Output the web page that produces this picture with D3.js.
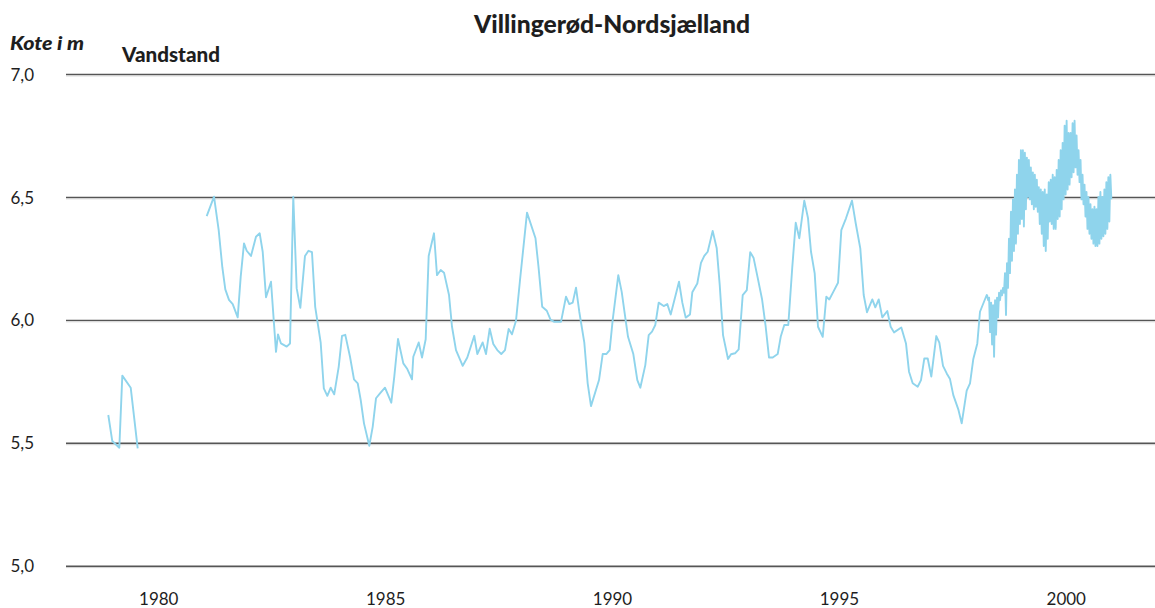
<!DOCTYPE html>
<html>
<head>
<meta charset="utf-8">
<script src="https://cdn.jsdelivr.net/npm/d3@7"></script>
<style>
  html, body { margin: 0; padding: 0; background: #fff; }
  svg { display: block; }
  text { font-family: Lato, "Open Sans", sans-serif; fill: #1e1e1e; }
</style>
</head>
<body>
<svg id="chart" width="1155" height="608"></svg>
<script>
// Groundwater level, Villingerød (North Zealand), metres above datum.

// Early readings, 1978-79 (decimal year / level)
const earlyDates  = [1978.932, 1979.020, 1979.175, 1979.241, 1979.426, 1979.580];
const earlyLevels = [5.613, 5.507, 5.480, 5.773, 5.724, 5.477];

// Roughly monthly readings, 1981 - mid 1998
const monthlyDates = [
  1981.101, 1981.262, 1981.365, 1981.445, 1981.511, 1981.592, 1981.674, 1981.784, 1981.850, 1981.923,
  1981.982, 1982.077, 1982.187, 1982.269, 1982.335, 1982.408, 1982.518, 1982.628, 1982.672, 1982.738,
  1982.864, 1982.937, 1983.009, 1983.084, 1983.164, 1983.267, 1983.344, 1983.421, 1983.492, 1983.613,
  1983.682, 1983.759, 1983.834, 1983.911, 1984.010, 1984.083, 1984.155, 1984.259, 1984.347, 1984.429,
  1984.495, 1984.567, 1984.684, 1984.759, 1984.832, 1984.920, 1985.030, 1985.169, 1985.235, 1985.317,
  1985.434, 1985.522, 1985.625, 1985.654, 1985.773, 1985.846, 1985.927, 1985.993, 1986.110, 1986.176,
  1986.258, 1986.331, 1986.441, 1986.507, 1986.595, 1986.743, 1986.844, 1986.998, 1987.065, 1987.183,
  1987.256, 1987.338, 1987.417, 1987.505, 1987.593, 1987.675, 1987.756, 1987.829, 1987.917, 1988.006,
  1988.160, 1988.347, 1988.413, 1988.495, 1988.596, 1988.678, 1988.761, 1988.909, 1989.019, 1989.092,
  1989.167, 1989.240, 1989.312, 1989.423, 1989.497, 1989.570, 1989.747, 1989.828, 1989.907, 1989.982,
  1990.048, 1990.172, 1990.247, 1990.313, 1990.386, 1990.503, 1990.591, 1990.657, 1990.767, 1990.842,
  1990.915, 1990.987, 1991.062, 1991.172, 1991.252, 1991.327, 1991.510, 1991.583, 1991.657, 1991.752,
  1991.803, 1991.913, 1991.994, 1992.067, 1992.142, 1992.252, 1992.341, 1992.407, 1992.480, 1992.590,
  1992.656, 1992.744, 1992.825, 1992.914, 1993.004, 1993.079, 1993.152, 1993.240, 1993.339, 1993.416,
  1993.493, 1993.575, 1993.685, 1993.751, 1993.830, 1993.918, 1994.006, 1994.082, 1994.161, 1994.271,
  1994.353, 1994.419, 1994.500, 1994.573, 1994.677, 1994.756, 1994.822, 1994.910, 1995.014, 1995.087,
  1995.190, 1995.322, 1995.404, 1995.505, 1995.580, 1995.653, 1995.770, 1995.836, 1995.911, 1995.990,
  1996.100, 1996.175, 1996.248, 1996.409, 1996.512, 1996.579, 1996.660, 1996.770, 1996.843, 1996.916,
  1996.991, 1997.070, 1997.180, 1997.247, 1997.328, 1997.410, 1997.482, 1997.555, 1997.665, 1997.740,
  1997.850, 1997.923, 1997.996, 1998.084, 1998.143, 1998.291
];
const monthlyLevels = [
  6.422, 6.501, 6.365, 6.214, 6.124, 6.081, 6.064, 6.010, 6.175, 6.311,
  6.281, 6.260, 6.338, 6.352, 6.277, 6.092, 6.155, 5.870, 5.941, 5.904,
  5.891, 5.904, 6.501, 6.128, 6.049, 6.260, 6.281, 6.275, 6.053, 5.907,
  5.721, 5.691, 5.724, 5.697, 5.809, 5.935, 5.939, 5.850, 5.758, 5.742,
  5.674, 5.579, 5.488, 5.565, 5.681, 5.701, 5.724, 5.663, 5.769, 5.922,
  5.823, 5.800, 5.758, 5.850, 5.908, 5.847, 5.921, 6.260, 6.352, 6.182,
  6.203, 6.192, 6.101, 5.972, 5.877, 5.813, 5.847, 5.935, 5.861, 5.908,
  5.861, 5.964, 5.902, 5.877, 5.861, 5.877, 5.963, 5.941, 5.996, 6.162,
  6.436, 6.332, 6.216, 6.053, 6.037, 6.001, 5.992, 5.992, 6.094, 6.064,
  6.070, 6.131, 6.033, 5.907, 5.742, 5.649, 5.755, 5.861, 5.861, 5.877,
  5.999, 6.182, 6.114, 6.026, 5.931, 5.861, 5.755, 5.724, 5.816, 5.938,
  5.952, 5.979, 6.070, 6.056, 6.064, 6.022, 6.155, 6.070, 6.009, 6.022,
  6.112, 6.148, 6.232, 6.260, 6.277, 6.362, 6.291, 6.142, 5.938, 5.841,
  5.860, 5.864, 5.880, 6.101, 6.121, 6.275, 6.253, 6.175, 6.085, 5.979,
  5.847, 5.847, 5.861, 5.931, 5.979, 5.979, 6.214, 6.395, 6.332, 6.485,
  6.413, 6.277, 6.189, 5.972, 5.931, 6.094, 6.083, 6.114, 6.151, 6.365,
  6.413, 6.485, 6.393, 6.291, 6.101, 6.031, 6.083, 6.051, 6.083, 6.010,
  6.036, 5.972, 5.949, 5.969, 5.904, 5.789, 5.742, 5.728, 5.755, 5.843,
  5.843, 5.769, 5.934, 5.907, 5.813, 5.782, 5.759, 5.694, 5.636, 5.579,
  5.712, 5.742, 5.841, 5.904, 6.033, 6.101
];

// Frequent logger readings from mid 1998 (about every 8 days)
const loggerStart = 1998.30;
const loggerStepDays = 8;
const loggerLevels = [
  6.10, 6.08, 6.09, 5.95, 6.07, 5.90, 6.06, 5.85, 6.08, 5.94,
  6.09, 6.01, 6.11, 6.08, 6.12, 6.10, 6.13, 6.11, 6.19, 6.02,
  6.23, 6.13, 6.33, 6.19, 6.44, 6.24, 6.49, 6.28, 6.53, 6.31,
  6.59, 6.35, 6.65, 6.39, 6.69, 6.41, 6.69, 6.38, 6.68, 6.45,
  6.66, 6.50, 6.65, 6.49, 6.62, 6.47, 6.60, 6.45, 6.59, 6.46,
  6.57, 6.44, 6.54, 6.39, 6.53, 6.35, 6.52, 6.30, 6.53, 6.28,
  6.51, 6.33, 6.56, 6.40, 6.57, 6.39, 6.59, 6.37, 6.58, 6.37,
  6.61, 6.41, 6.65, 6.42, 6.69, 6.45, 6.72, 6.49, 6.79, 6.51,
  6.81, 6.53, 6.76, 6.55, 6.76, 6.58, 6.80, 6.60, 6.81, 6.62,
  6.75, 6.59, 6.69, 6.56, 6.65, 6.49, 6.59, 6.47, 6.55, 6.42,
  6.52, 6.37, 6.50, 6.35, 6.47, 6.33, 6.45, 6.31, 6.46, 6.30,
  6.45, 6.30, 6.50, 6.31, 6.52, 6.33, 6.50, 6.34, 6.53, 6.35,
  6.56, 6.37, 6.58, 6.40, 6.59, 6.49
];

const yTicks = [5.0, 5.5, 6.0, 6.5, 7.0];
const xTicks = [1980, 1985, 1990, 1995, 2000];

const titleText = "Villingerød-Nordsjælland";
const unitText = "Kote i m";
const seriesText = "Vandstand";

// ---- assemble series (null breaks the line across the 1979-81 gap)
const points = [];
earlyDates.forEach((d, i) => points.push({ t: d, v: earlyLevels[i] }));
points.push({ t: 1980.3, v: null });
monthlyDates.forEach((d, i) => points.push({ t: d, v: monthlyLevels[i] }));
loggerLevels.forEach((v, i) => points.push({ t: loggerStart + i * loggerStepDays / 365.25, v }));

// ---- layout
const plotLeft = 66, plotRight = 1155, plotTop = 74, plotBottom = 565.7;

const svg = d3.select("#chart");

const x = d3.scaleLinear().domain([1978, 2002]).range([plotLeft, plotRight]);
const y = d3.scaleLinear().domain([5, 7]).range([plotBottom, plotTop]);

const da = d3.formatLocale({ decimal: ",", thousands: ".", grouping: [3], currency: ["", " kr"] });
const fmt = da.format(".1f");

// horizontal grid lines with labels
const yAxis = d3.axisLeft(y)
  .tickValues(yTicks)
  .tickFormat(fmt)
  .tickSize(-(plotRight - plotLeft))
  .tickPadding(32);

const gy = svg.append("g").attr("transform", `translate(${plotLeft},0)`).call(yAxis);
gy.select(".domain").remove();
gy.selectAll(".tick line").attr("stroke", "#555").attr("stroke-width", 1.4);
gy.selectAll(".tick").append("line")
  .attr("x1", 0).attr("x2", plotRight - plotLeft)
  .attr("y1", 1.4).attr("y2", 1.4)
  .attr("stroke", "#cfcfcf").attr("stroke-width", 1);
gy.selectAll(".tick text")
  .attr("font-size", 17)
  .attr("font-family", "Lato, sans-serif")
  .attr("fill", "#1e1e1e")
  .attr("dy", "0.36em");

// year labels
const xAxis = d3.axisBottom(x).tickValues(xTicks).tickFormat(d3.format("d")).tickSize(0);
const gx = svg.append("g").attr("transform", `translate(0,${plotBottom})`).call(xAxis);
gx.select(".domain").remove();
gx.selectAll(".tick text")
  .attr("font-size", 17)
  .attr("font-family", "Lato, sans-serif")
  .attr("fill", "#1e1e1e")
  .attr("dy", 0)
  .attr("y", 39)
  .attr("dx", 1.5);

// water level line
const line = d3.line()
  .defined(d => d.v !== null)
  .x(d => x(d.t))
  .y(d => y(d.v));

svg.append("path")
  .datum(points)
  .attr("fill", "none")
  .attr("stroke", "#8fd4ec")
  .attr("stroke-width", 1.9)
  .attr("stroke-linejoin", "round")
  .attr("d", line);

// titles
svg.append("text")
  .attr("x", 612).attr("y", 33)
  .attr("text-anchor", "middle")
  .attr("font-size", 24).attr("font-weight", 900)
  .attr("textLength", 276).attr("lengthAdjust", "spacingAndGlyphs")
  .text(titleText);

svg.append("text")
  .attr("x", 10).attr("y", 50)
  .attr("font-size", 18).attr("font-weight", 900).attr("font-style", "italic")
  .attr("textLength", 74).attr("lengthAdjust", "spacingAndGlyphs")
  .text(unitText);

svg.append("text")
  .attr("x", 122).attr("y", 62)
  .attr("font-size", 20).attr("font-weight", 900)
  .attr("textLength", 98).attr("lengthAdjust", "spacingAndGlyphs")
  .text(seriesText);
</script>
</body>
</html>
